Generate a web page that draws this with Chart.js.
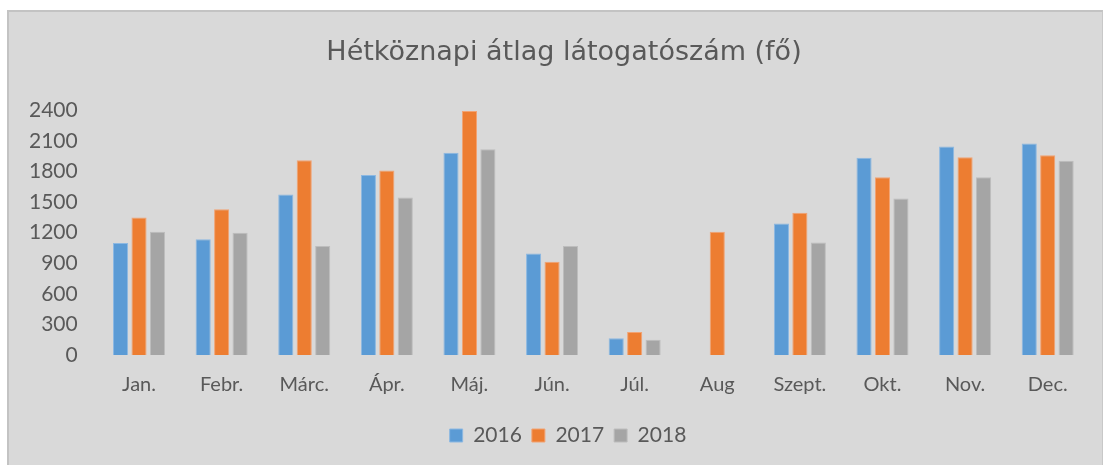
<!DOCTYPE html>
<html>
<head>
<meta charset="utf-8">
<script src="https://cdn.jsdelivr.net/npm/chart.js@4"></script>
<style>
  body { margin:0; background:#ffffff; overflow:hidden; }
  #box {
    position:absolute; left:7px; top:10px;
    width:1096px; height:456px;
    background:#d9d9d9;
    border-left:2px solid #c3c3c3;
    border-top:2px solid #c3c3c3;
    border-right:1px solid #c8c8c8;
    box-sizing:border-box;
  }
  canvas { display:block; }
</style>
</head>
<body>
<div id="box"><canvas id="chart"></canvas></div>
<script>
const honapok = ['Jan.','Febr.','Márc.','Ápr.','Máj.','Jún.','Júl.','Aug','Szept.','Okt.','Nov.','Dec.'];

const ev2016 = [1100,1135,1575,1765,1985,995,165,null,1290,1935,2045,2075];
const ev2017 = [1350,1430,1910,1810,2395,915,225,1210,1395,1745,1940,1960];
const ev2018 = [1210,1200,1070,1545,2020,1070,150,null,1105,1535,1745,1905];

const yTicks = [0,300,600,900,1200,1500,1800,2100,2400];

const szin = '#595959';

function oszlop(label, data, color, border){
  return {
    label: label,
    data: data,
    backgroundColor: color,
    borderColor: border,
    borderWidth: 1,
    categoryPercentage: 0.67,
    barPercentage: 0.82
  };
}

// title and legend sit a bit right of centre in the original
const eltolas = {
  id: 'eltolas',
  afterLayout(chart){
    if (chart.titleBlock) chart.titleBlock.left += 30;
    if (chart.legend) chart.legend.left += 38;
  }
};

new Chart(document.getElementById('chart'), {
  type: 'bar',
  data: {
    labels: honapok,
    datasets: [
      oszlop('2016', ev2016, '#5b9bd5', '#8cb8e2'),
      oszlop('2017', ev2017, '#ed7d31', '#f2a373'),
      oszlop('2018', ev2018, '#a5a5a5', '#bdbdbd')
    ]
  },
  plugins: [eltolas],
  options: {
    responsive: true,
    maintainAspectRatio: false,
    animation: false,
    layout: { padding: { left: 0, right: 13, top: 0, bottom: 10 } },
    plugins: {
      title: {
        display: true,
        text: 'Hétköznapi átlag látogatószám (fő)',
        color: szin,
        font: { family: 'DejaVu Sans', size: 27, weight: 'normal' },
        padding: { top: 25, bottom: 41 }
      },
      legend: {
        position: 'bottom',
        labels: {
          color: szin,
          font: { family: 'Lato', size: 21 },
          boxWidth: 13,
          boxHeight: 13,
          padding: 10
        }
      },
      tooltip: { enabled: false }
    },
    scales: {
      x: {
        grid: { display: false, drawTicks: false },
        border: { display: false },
        ticks: { color: szin, font: { family: 'Lato', size: 20 }, padding: 18 }
      },
      y: {
        min: 0,
        max: 2400,
        afterBuildTicks: axis => { axis.ticks = yTicks.map(v => ({ value: v })); },
        grid: { display: false, drawTicks: false },
        border: { display: false },
        ticks: {
          color: szin,
          font: { family: 'Lato', size: 21 },
          padding: 20,
          callback: v => String(v)
        }
      }
    }
  }
});
</script>
</body>
</html>
